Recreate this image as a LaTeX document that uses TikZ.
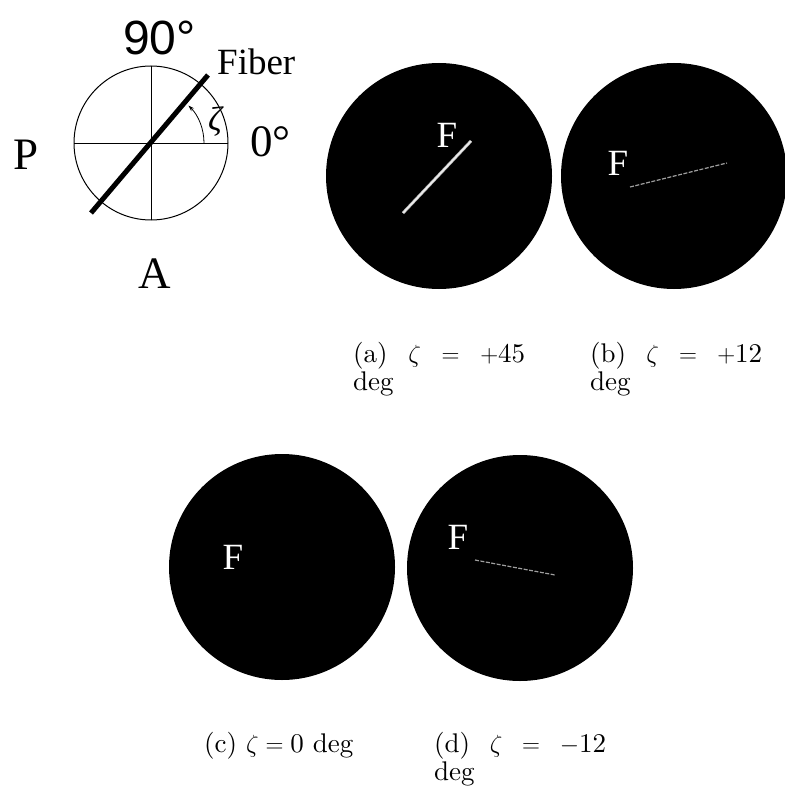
\documentclass[tikz,border=0pt]{standalone}
\usepackage{fontspec}
\usetikzlibrary{arrows.meta}
\newfontfamily\timesfont{Liberation Serif}
\newfontfamily\helvfont{Liberation Sans}
\newfontfamily\capfont{lmroman10-regular.otf}

\begin{document}
\begin{tikzpicture}[x=1pt, y=-1pt,
        disk/.style={fill=black},
        flabel/.style={text=white, inner sep=0, font=\timesfont\fontsize{37}{37}\selectfont},
        biglabel/.style={anchor=base west, inner sep=0, font=\timesfont\fontsize{45}{45}\selectfont},
        caption/.style={anchor=base west, inner sep=0, text width=172pt, align=left, font=\capfont\fontsize{27}{28}\selectfont},
        trace/.style={line width=1.2pt, gray!75, dash pattern=on 4pt off 1.5pt}
    ]
        \useasboundingbox (0,0) rectangle (784,794);

        \coordinate (o) at (151,143);
        \draw[line width=1pt] (o) circle[radius=77];
        \draw[line width=0.8pt] (74,143) -- (228,143);
        \draw[line width=0.8pt] (151,66) -- (151,220);
        \coordinate (fiberlo) at (91,213);
        \coordinate (fiberhi) at (208,75);
        \draw[line width=5pt] (fiberlo) -- (fiberhi);
        \coordinate (arcstart) at (204,143);
        \draw[line width=0.8pt, -{Stealth[length=6pt, width=4pt]}] (arcstart) arc[start angle=0, end angle=-45, radius=53];
        \node[font=\timesfont\itshape\fontsize{34}{34}\selectfont, inner sep=0] (zeta) at (215,122) {ζ};
        \node[anchor=base west, inner sep=0, font=\helvfont\fontsize{48}{48}\selectfont] (top) at (123,55) {90°};
        \node[anchor=base west, inner sep=0, font=\timesfont\fontsize{37}{37}\selectfont] (fiber) at (217,75) {Fiber};
        \node[biglabel] (zero) at (250,157) {0°};
        \node[biglabel] (pol) at (13,170) {P};
        \node[biglabel] (ana) at (138,288) {A};

        \fill[disk] (439,176) circle[radius=113];
        \fill[disk] (674,176) circle[radius=113];
        \fill[disk] (282,567) circle[radius=113];
        \fill[disk] (520,568) circle[radius=113];

        \node[flabel] (fa) at (447,135) {F};
        \node[flabel] (fb) at (618,163) {F};
        \node[flabel] (fc) at (233,557) {F};
        \node[flabel] (fd) at (458,537) {F};

        \draw[line width=3pt, gray!60] (403,213) -- (471,141);
        \draw[line width=1.6pt, white!85!gray] (403,213) -- (471,141);
        \draw[trace] (630,187) -- (727,163);
        \draw[trace] (475,560) -- (555,575);

        \node[caption] (capa) at (353,362) {(a)\hfill$\zeta$\hfill$=$\hfill$+$45\\deg};
        \node[caption] (capb) at (590,362) {(b)\hfill$\zeta$\hfill$=$\hfill$+$12\\deg};
        \node[caption] (capc) at (204,752) {(c) $\zeta={}$0 deg};
        \node[caption] (capd) at (434,752) {(d)\hfill$\zeta$\hfill$=$\hfill$-$12\\deg};
    \end{tikzpicture}
\end{document}
